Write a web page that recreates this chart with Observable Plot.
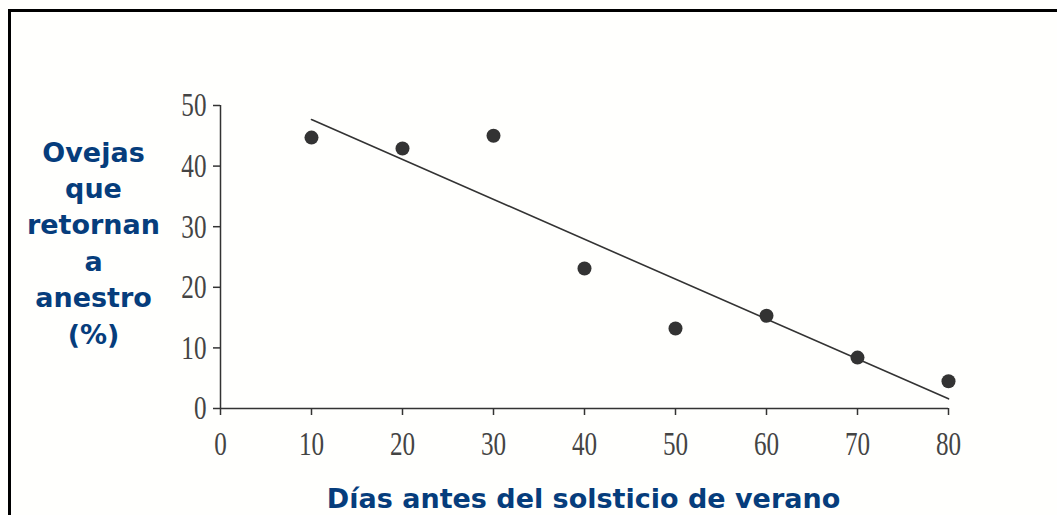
<!DOCTYPE html>
<html>
<head>
<meta charset="utf-8">
<script src="https://cdn.jsdelivr.net/npm/d3@7"></script>
<script src="https://cdn.jsdelivr.net/npm/@observablehq/plot@0.6"></script>
<style>
  html, body { margin: 0; padding: 0; background: #fff; overflow: hidden; }
  #wrap { position: relative; width: 1057px; height: 515px; overflow: hidden; background: #fffffd; }
  #frame { position: absolute; left: 8px; top: 9px; width: 1200px; height: 700px; border-top: 3px solid #000; border-left: 3px solid #000; }
  #chart { position: absolute; left: 0; top: 0; }
</style>
</head>
<body>
<div id="wrap"><div id="frame"></div><div id="chart"></div></div>
<script>
const days = [10, 20, 30, 40, 50, 60, 70, 80];
const anestrusPct = [44.7, 42.9, 45.0, 23.1, 13.2, 15.3, 8.4, 4.5];
const xTicks = [0, 10, 20, 30, 40, 50, 60, 70, 80];
const yTicks = [0, 10, 20, 30, 40, 50];
const yLabel = "Ovejas\nque\nretornan\na\nanestro\n(%)";
const xLabel = "Días antes del solsticio de verano";

const data = days.map((d, i) => ({days: d, pct: anestrusPct[i]}));
const blue = "#063d7c";
const ink = "#333";

const plot = Plot.plot({
  width: 1057,
  height: 515,
  marginLeft: 220,
  marginRight: 109,
  marginTop: 105,
  marginBottom: 107,
  style: {background: "transparent", overflow: "visible"},
  x: {domain: [0, 80]},
  y: {domain: [0, 50]},
  marks: [
    Plot.ruleX([0], {stroke: ink, strokeWidth: 1.5}),
    Plot.ruleY([0], {stroke: ink, strokeWidth: 1.5}),
    Plot.axisX({ticks: xTicks, tickSize: 7, tickPadding: 15, fontSize: 34, label: null, stroke: ink, strokeWidth: 1.5, color: "#444", fontFamily: "Liberation Serif"}),
    Plot.axisY({ticks: yTicks, tickSize: 7, tickPadding: 7, fontSize: 34, label: null, stroke: ink, strokeWidth: 1.5, color: "#444", fontFamily: "Liberation Serif"}),
    Plot.linearRegressionY(data, {x: "days", y: "pct", ci: 0, stroke: ink, strokeWidth: 1.6}),
    Plot.dot(data, {x: "days", y: "pct", r: 7, fill: ink, stroke: "none"}),
    Plot.text([yLabel], {frameAnchor: "left", dx: -127, dy: -16, textAnchor: "middle", fontSize: 27, fontWeight: "bold", fill: blue, lineHeight: 1.35, fontFamily: "DejaVu Sans"}),
    Plot.text([xLabel], {frameAnchor: "bottom", dx: -1, dy: 99, textAnchor: "middle", fontSize: 27, fontWeight: "bold", fill: blue, fontFamily: "DejaVu Sans"})
  ]
});
document.getElementById("chart").appendChild(plot);

// condense the serif tick labels horizontally
plot.querySelectorAll("g[aria-label='x-axis tick label'] text, g[aria-label='y-axis tick label'] text").forEach(t => {
  const tr = t.getAttribute("transform") || "";
  t.setAttribute("transform", tr + " scale(0.74,1)");
});
</script>
</body>
</html>
